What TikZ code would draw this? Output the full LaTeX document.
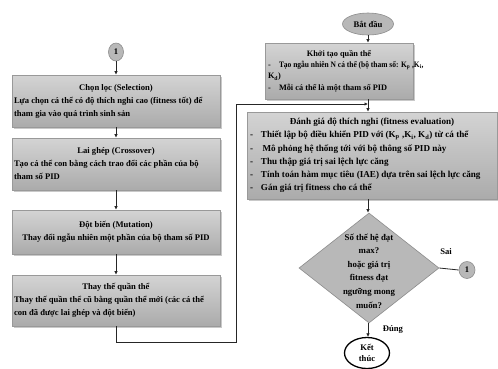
\documentclass[tikz,border=0pt]{standalone}
\usepackage{fontspec}
\setmainfont{Liberation Serif}
\newfontfamily\condfont[FakeStretch=0.9]{Liberation Serif}
\usetikzlibrary{shapes.geometric,arrows.meta,shadows}
\newcommand{\bl}[1]{\hangindent=11pt\hangafter=1\noindent\makebox[11pt][l]{-}#1\par}
\begin{document}
\begin{tikzpicture}[x=1pt,y=-1pt,
  every node/.style={font=\bfseries\fontsize{8.6}{13}\selectfont, text=black},
  box/.style={rectangle, draw=black!40, line width=0.6pt, top color=black!17, bottom color=black!33,
    drop shadow={shadow xshift=1.5pt, shadow yshift=-1.5pt, opacity=0.35, fill=black!60},
    inner sep=0pt, anchor=center},
  term/.style={ellipse, draw=black!45, line width=0.6pt, fill=black!28, inner sep=0pt},
  conn/.style={ellipse, draw=black!45, line width=0.6pt, fill=black!28, inner sep=0pt, minimum width=15pt, minimum height=18pt},
  arr/.style={draw=black!85, line width=0.8pt, -{Latex[length=3.5pt,width=3.5pt]}},
  ln/.style={draw=black!85, line width=0.8pt}]
\useasboundingbox (0,0) rectangle (498,368);
\fill[white] (0,0) rectangle (498,368);

% left column
\node[conn] (c1) at (116,52) {1};
\node[box, minimum width=208pt, minimum height=52pt] (b1) at (116,101) {\begin{minipage}{204pt}\centering Chọn lọc (Selection)\par\raggedright Lựa chọn cá thể có độ thích nghi cao (fitness tốt) để\\ tham gia vào quá trình sinh sản\end{minipage}};
\node[box, minimum width=208pt, minimum height=52pt] (b2) at (116,164) {\begin{minipage}{204pt}\centering Lai ghép (Crossover)\par\raggedright Tạo cá thể con bằng cách trao đổi các phần của bộ\\ tham số PID\end{minipage}};
\node[box, minimum width=208pt, minimum height=44pt] (b3) at (116,232) {\begin{minipage}{204pt}\centering Đột biến (Mutation)\\ Thay đổi ngẫu nhiên một phần của bộ tham số PID\end{minipage}};
\node[box, minimum width=208pt, minimum height=51pt] (b4) at (116,300.5) {\begin{minipage}{204pt}\centering Thay thế quần thể\par\raggedright Thay thế quần thể cũ bằng quần thể mới (các cá thể\\ con đã được lai ghép và đột biến)\end{minipage}};

% right column
\node[term, minimum width=51pt, minimum height=22pt] (bd) at (368,24) {Bắt đầu};
\node[box, minimum width=148pt, minimum height=56pt] (kt) at (339,71) {\begin{minipage}{142pt}\fontsize{8.3}{11.3}\selectfont\centering Khởi tạo quần thể\par\raggedright
\bl{\mbox{\condfont\bfseries Tạo ngẫu nhiên N cá thể (bộ tham số: K\textsubscript{p} ,K\textsubscript{i},}\\ K\textsubscript{d})}
\bl{Mỗi cá thể là một tham số PID}\end{minipage}};
\node[box, minimum width=250pt, minimum height=87pt] (dg) at (372,155.5) {\begin{minipage}{244pt}\fontsize{9.1}{13.2}\selectfont\centering Đánh giá độ thích nghi (fitness evaluation)\par\raggedright
\bl{Thiết lập bộ điều khiển PID với (K\textsubscript{p} ,K\textsubscript{i}, K\textsubscript{d}) từ cá thể}
\bl{\,Mô phỏng hệ thống tới với bộ thông số PID này}
\bl{Thu thập giá trị sai lệch lực căng}
\bl{Tính toán hàm mục tiêu (IAE) dựa trên sai lệch lực căng}
\bl{Gán giá trị fitness cho cá thể}\end{minipage}};

\node[diamond, draw=black!45, line width=0.6pt, fill=black!28, inner sep=0pt, minimum width=140pt, minimum height=110pt, aspect=1.27] (dm) at (369,268) {};
\node[align=center, font=\bfseries\fontsize{8.8}{13.6}\selectfont] (dmt) at (369,271) {Số thế hệ đạt\\ max?\\ hoặc giá trị\\ fitness đạt\\ ngưỡng mong\\ muốn?};
\node[conn, minimum width=16pt, minimum height=17pt] (c2) at (467,270) {1};
\node[ellipse, draw=black, line width=1.3pt, fill=white, inner sep=0pt, minimum width=45pt, minimum height=31pt, align=center, font=\bfseries\fontsize{8.6}{11.5}\selectfont] (kth) at (367,353) {Kết\\ thúc};

\node (sai) at (446,252) {Sai};
\node (dung) at (393,329) {Đúng};

% connectors
\draw[arr] (c1) -- (b1);
\draw[arr] (b1) -- (b2);
\draw[arr] (b2) -- (b3);
\draw[arr] (b3) -- (b4);
\coordinate (lp) at (236,342);
\coordinate (jn) at (368,104);
\draw[arr] (b4.south) |- (lp) |- (jn);
\draw[arr] (bd.south) -- (bd.south |- kt.north);
\draw[ln] (bd.south |- kt.south) -- (jn);
\draw[arr] (jn) -- (jn |- dg.north);
\draw[arr] (dg.south -| bd) -- (dm.north -| bd);
\draw[ln] (dm.east) -- (c2.west);
\draw[arr] (dm.south -| bd) -- (kth.north -| bd);
\end{tikzpicture}
\end{document}
